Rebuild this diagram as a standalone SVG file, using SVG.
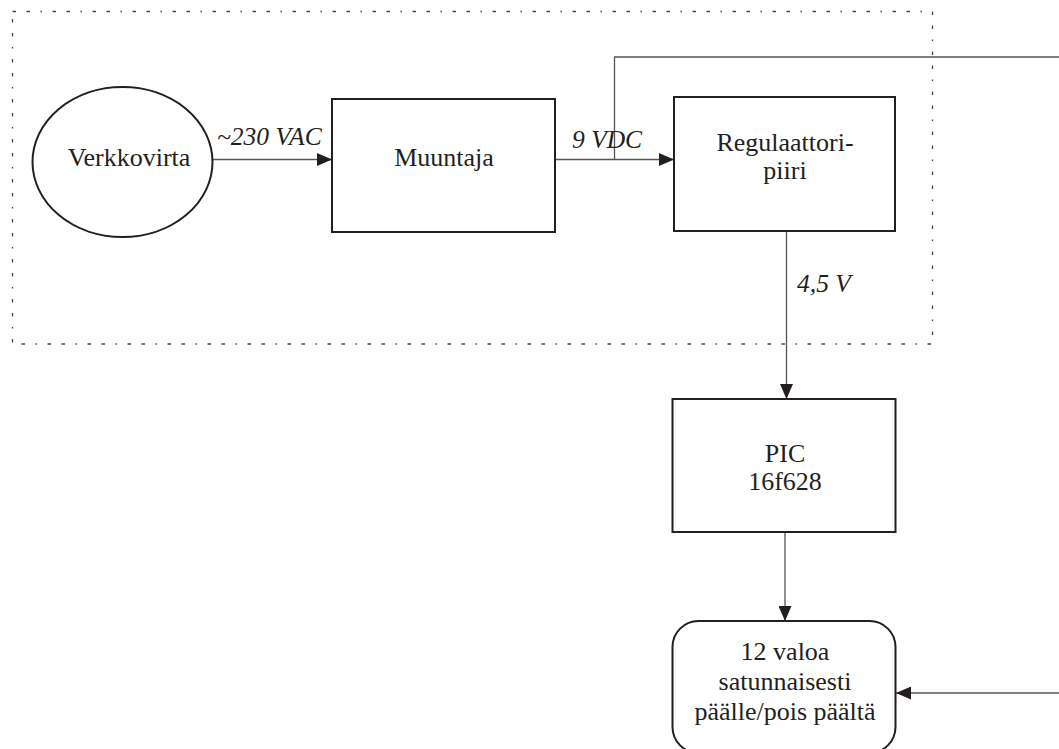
<svg xmlns="http://www.w3.org/2000/svg" width="1059" height="749" viewBox="0 0 1059 749">
<defs>
<style>
.node{fill:#fff;stroke:#231f20;stroke-width:2}
.lbl{font-family:"Liberation Serif","Times New Roman",serif;font-size:26px;fill:#231f20;text-anchor:middle}
.elbl{font-family:"Liberation Serif","Times New Roman",serif;font-size:25.5px;font-style:italic;fill:#231f20}
.conn{fill:none;stroke:#555;stroke-width:1.3}
.frame{fill:none;stroke:#444;stroke-width:1.3;stroke-dasharray:3.5 10.5 3.5 10.5 1.5 10.5}
</style>
<marker id="arr" viewBox="0 0 15 13" refX="15" refY="6.5" markerWidth="15" markerHeight="13" markerUnits="userSpaceOnUse" orient="auto">
<path d="M0,0 L15,6.5 L0,13 Z" fill="#231f20"/>
</marker>
</defs>
<rect width="1059" height="749" fill="#fff"/>
<rect class="frame" x="12.5" y="11.5" width="920" height="332.5"/>
<g id="connectors">
<line class="conn" x1="212" y1="159.5" x2="332" y2="159.5" marker-end="url(#arr)"/>
<line class="conn" x1="555" y1="159.5" x2="674" y2="159.5" marker-end="url(#arr)"/>
<polyline class="conn" points="614.5,159.5 614.5,57 1059,57"/>
<line class="conn" x1="786.5" y1="231" x2="786.5" y2="399" marker-end="url(#arr)"/>
<line class="conn" x1="785" y1="532" x2="785" y2="621" marker-end="url(#arr)"/>
<line class="conn" x1="1059" y1="693" x2="896" y2="693" marker-end="url(#arr)"/>
<text class="elbl" x="217" y="145">~230 VAC</text>
<text class="elbl" x="572" y="148">9 VDC</text>
<text class="elbl" x="797" y="292">4,5 V</text>
</g>
<g id="verkkovirta">
<ellipse class="node" cx="122.5" cy="162" rx="90" ry="75"/>
<text class="lbl" x="129" y="166">Verkkovirta</text>
</g>
<g id="muuntaja">
<rect class="node" x="332" y="99" width="223" height="133"/>
<text class="lbl" x="444" y="166">Muuntaja</text>
</g>
<g id="regulaattori">
<rect class="node" x="674" y="97" width="221" height="134"/>
<text class="lbl" x="785" y="151">Regulaattori-</text>
<text class="lbl" x="785" y="179">piiri</text>
</g>
<g id="pic">
<rect class="node" x="672.5" y="399" width="223" height="133"/>
<text class="lbl" x="785" y="462">PIC</text>
<text class="lbl" x="785" y="490">16f628</text>
</g>
<g id="valot">
<rect class="node" x="672.5" y="621" width="223" height="132" rx="26" ry="26"/>
<text class="lbl" x="785" y="660">12 valoa</text>
<text class="lbl" x="785" y="690">satunnaisesti</text>
<text class="lbl" x="785" y="720">päälle/pois päältä</text>
</g>
</svg>
